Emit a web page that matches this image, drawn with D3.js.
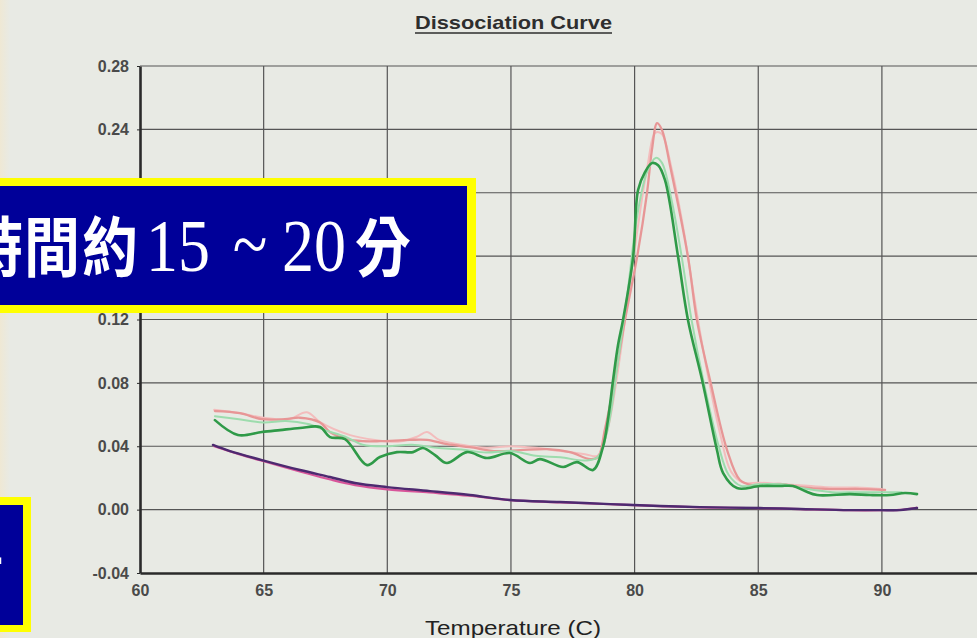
<!DOCTYPE html>
<html><head><meta charset="utf-8">
<script src="https://cdn.jsdelivr.net/npm/d3@7"></script>
<style>html,body{margin:0;padding:0;background:#e8eae4;overflow:hidden}</style>
</head><body>
<svg id="c" width="977" height="638"></svg>
<script>
// ---- data (temperature °C, derivative fluorescence) ----
const xTicks = [60, 65, 70, 75, 80, 85, 90];
const yTicks = [-0.04, 0.00, 0.04, 0.08, 0.12, 0.16, 0.20, 0.24, 0.28];
const yTickLabels = ["-0.04","0.00","0.04","0.08","0.12","0.16","0.20","0.24","0.28"];

const greenDark = [[63.03,0.0565],[63.96,0.0471],[64.93,0.0490],[65.66,0.0502],[66.47,0.0515],[67.28,0.0521],[67.68,0.0458],[68.29,0.0445],[69.18,0.0281],[69.70,0.0332],[70.39,0.0363],[71.04,0.0363],[71.44,0.0389],[71.93,0.0344],[72.41,0.0294],[73.22,0.0363],[74.03,0.0326],[74.96,0.0357],[75.77,0.0294],[76.17,0.0319],[77.11,0.0269],[77.67,0.0300],[78.32,0.0250],[78.72,0.0395],[78.92,0.0565],[79.13,0.0818],[79.33,0.1039],[79.53,0.1196],[79.94,0.1594],[80.14,0.2017],[80.42,0.2130],[80.70,0.2187],[80.95,0.2174],[81.23,0.2079],[81.76,0.1594],[82.16,0.1196],[82.73,0.0818],[83.33,0.0376],[83.58,0.0231],[84.14,0.0136],[85.07,0.0149],[85.88,0.0149],[86.41,0.0149],[86.89,0.0117],[87.38,0.0092],[88.71,0.0098],[89.52,0.0092],[90.33,0.0092],[90.93,0.0105],[91.42,0.0098]];

const greenLight = [[63.03,0.059],[64.0,0.057],[65.0,0.055],[65.9,0.056],[66.8,0.054],[67.5,0.050],[68.3,0.046],[69.0,0.041],[70.0,0.040],[71.0,0.041],[72.0,0.039],[73.0,0.038],[74.0,0.036],[75.0,0.037],[76.0,0.034],[77.0,0.033],[78.0,0.031],[78.5,0.033],[78.9,0.050],[79.3,0.090],[79.7,0.135],[80.1,0.185],[80.5,0.213],[80.85,0.222],[81.1,0.219],[81.5,0.195],[81.9,0.160],[82.3,0.120],[82.8,0.080],[83.4,0.040],[83.8,0.022],[84.3,0.015],[85.0,0.016],[86.0,0.016],[87.0,0.013],[88.0,0.011],[89.0,0.011],[90.0,0.011],[90.8,0.011]];

const pinkMain = [[63.03,0.0622],[64.04,0.0609],[64.93,0.0571],[65.86,0.0571],[66.47,0.0580],[67.28,0.0550],[67.68,0.0489],[68.37,0.0445],[69.02,0.0432],[69.70,0.0432],[70.92,0.0440],[71.61,0.0440],[72.41,0.0413],[73.34,0.0394],[74.44,0.0369],[75.37,0.0375],[76.46,0.0382],[77.39,0.0363],[78.20,0.0319],[78.52,0.0331],[78.80,0.0508],[79.09,0.0729],[79.41,0.1013],[79.61,0.1196],[80.10,0.1594],[80.50,0.1997],[80.70,0.2269],[80.91,0.2439],[81.11,0.2395],[81.43,0.2174],[82.16,0.1594],[82.52,0.1196],[83.05,0.0818],[83.74,0.0376],[84.26,0.0187],[84.75,0.0155],[85.88,0.0162],[86.69,0.0142],[87.90,0.0130],[89.11,0.0130],[90.13,0.0124]];

const pinkLight = [[63.0,0.063],[64.0,0.061],[65.0,0.058],[66.0,0.057],[66.75,0.0615],[67.3,0.055],[68.5,0.047],[69.5,0.044],[70.5,0.043],[71.2,0.046],[71.6,0.049],[72.1,0.044],[73.0,0.041],[74.0,0.039],[75.0,0.040],[76.0,0.039],[77.0,0.037],[78.0,0.035],[78.5,0.034],[78.9,0.050],[79.3,0.085],[79.7,0.130],[80.1,0.175],[80.5,0.215],[80.85,0.238],[81.1,0.237],[81.5,0.215],[82.0,0.175],[82.4,0.135],[82.9,0.090],[83.5,0.045],[83.9,0.024],[84.4,0.017],[85.0,0.017],[86.0,0.016],[87.0,0.015],[88.0,0.014],[89.0,0.014],[90.0,0.013]];

const baseMagenta = [[63.0,0.040],[64.0,0.035],[65.0,0.0305],[66.5,0.024],[67.7,0.019],[68.7,0.0155],[70.0,0.0128],[71.7,0.0108],[73.3,0.0088],[75.0,0.0060],[77.0,0.0046],[79.0,0.0034],[81.0,0.0022],[82.6,0.0014],[85.0,0.0010],[86.7,0.0003],[88.7,-0.0004],[90.0,-0.0004],[90.7,-0.0002],[91.4,0.0012]];

const basePurple = [[62.95,0.0408],[63.64,0.0369],[64.93,0.0313],[66.47,0.0250],[67.68,0.0206],[68.69,0.0168],[69.99,0.0142],[71.73,0.0117],[73.34,0.0092],[74.96,0.0061],[76.98,0.0048],[79.01,0.0035],[81.03,0.0023],[82.64,0.0016],[85.07,0.0010],[86.69,0.0004],[88.71,-0.0003],[89.92,-0.0003],[90.73,-0.0003],[91.42,0.0010]];

const titleText = "Dissociation Curve";
const xTitle = "Temperature (C)";
// ---------------------------------------------------------

const svg = d3.select("#c");
const W = 977, H = 638;

// background
const defs = svg.append("defs");
const lg = defs.append("linearGradient").attr("id","edge").attr("x1","0").attr("x2","1");
lg.append("stop").attr("offset","0").attr("stop-color","#efe8d4");
lg.append("stop").attr("offset","1").attr("stop-color","#e8eae4");
svg.append("rect").attr("width",W).attr("height",H).attr("fill","#e8eae4");
svg.append("rect").attr("width",10).attr("height",H).attr("fill","url(#edge)");

const x = d3.scaleLinear().domain([60, 95]).range([140, 140 + 35 * 24.73]);
const y = d3.scaleLinear().domain([-0.04, 0.28]).range([573, 66]);

const g = svg.append("g");

// grid
g.selectAll(".vg").data(xTicks.slice(1)).join("line")
  .attr("x1", d => x(d)).attr("x2", d => x(d))
  .attr("y1", y(0.28)).attr("y2", y(-0.04))
  .attr("stroke", "#555").attr("stroke-width", 1.2);
g.selectAll(".hg").data(yTicks.slice(1)).join("line")
  .attr("x1", x(60)).attr("x2", W)
  .attr("y1", d => y(d)).attr("y2", d => y(d))
  .attr("stroke", "#555").attr("stroke-width", 1.2);

// axes
const yAxis = d3.axisLeft(y).tickValues(yTicks).tickFormat((d,i) => yTickLabels[i])
  .tickSize(3).tickSizeOuter(0).tickPadding(8);
const ya = svg.append("g").attr("transform", `translate(${x(60)},0)`).call(yAxis);
ya.select(".domain").attr("stroke","#2a2a2a").attr("stroke-width",2.6);
ya.selectAll(".tick line").attr("stroke","#2a2a2a");
ya.selectAll(".tick text").attr("font-family","Liberation Sans, Arial, sans-serif")
  .attr("font-size",16).attr("font-weight","bold").attr("fill","#4a4a4a");

const xAxis = d3.axisBottom(x).tickValues(xTicks).tickSize(0).tickSizeOuter(0).tickPadding(12);
const xa = svg.append("g").attr("transform", `translate(0,${y(-0.04)})`).call(xAxis);
xa.select(".domain").attr("stroke","#2a2a2a").attr("stroke-width",2.6);
xa.selectAll(".tick text").attr("font-family","Liberation Sans, Arial, sans-serif")
  .attr("font-size",16).attr("font-weight","bold").attr("fill","#4a4a4a");

// curves
const line = d3.line().x(d => x(d[0])).y(d => y(d[1])).curve(d3.curveCatmullRom.alpha(0.5));
const series = [
  {d: pinkLight, c: "#f3bdbd", w: 2},
  {d: pinkMain, c: "#e79696", w: 2.3},
  {d: greenLight, c: "#9ddcad", w: 2},
  {d: greenDark, c: "#2f9a48", w: 2.6},
  {d: baseMagenta, c: "#d8559a", w: 2.2},
  {d: basePurple, c: "#4d2a70", w: 2.4}
];
g.selectAll(".s").data(series).join("path")
  .attr("d", s => line(s.d)).attr("fill","none")
  .attr("stroke", s => s.c).attr("stroke-width", s => s.w)
  .attr("stroke-linejoin","round").attr("stroke-linecap","round");

// titles
svg.append("text").attr("x", 415).attr("y", 29)
  .attr("font-family","Liberation Sans, Arial, sans-serif").attr("font-weight","bold")
  .attr("font-size",19).attr("fill","#2e2e2e")
  .attr("textLength",197).attr("lengthAdjust","spacingAndGlyphs").text(titleText);
svg.append("line").attr("x1",415).attr("x2",612).attr("y1",33).attr("y2",33)
  .attr("stroke","#2e2e2e").attr("stroke-width",1.6);
svg.append("text").attr("x", 425).attr("y", 635)
  .attr("font-family","Liberation Sans, Arial, sans-serif")
  .attr("font-size",21).attr("fill","#222")
  .attr("textLength",176).attr("lengthAdjust","spacingAndGlyphs").text(xTitle);

// overlay boxes
svg.append("rect").attr("x",-10).attr("y",178).attr("width",486).attr("height",135).attr("fill","#ffff00");
svg.append("rect").attr("x",-10).attr("y",186).attr("width",477).attr("height",119).attr("fill","#000099");
const bg = svg.append("g").attr("transform","translate(0,271) scale(1,1.15)")
  .attr("fill","#ffffff");
const cjk = (txt, cx) => bg.append("text").attr("x",cx).attr("y",0).attr("text-anchor","middle")
  .attr("font-family","Noto Sans CJK TC").attr("font-weight","bold").attr("font-size",56).text(txt);
cjk("時", -5); cjk("間", 52); cjk("約", 110);
bg.append("text").attr("x",146).attr("y",0)
  .attr("font-family","Liberation Serif").attr("font-size",64).text("15");
bg.append("text").attr("x",250).attr("y",-2).attr("text-anchor","middle")
  .attr("font-family","Liberation Serif").attr("font-size",64).text("~");
bg.append("text").attr("x",282).attr("y",0)
  .attr("font-family","Liberation Serif").attr("font-size",64).text("20");
cjk("分", 383);

svg.append("rect").attr("x",-10).attr("y",497).attr("width",41).attr("height",135).attr("fill","#ffff00");
svg.append("rect").attr("x",-10).attr("y",505).attr("width",33).attr("height",120).attr("fill","#000099");
svg.append("text").attr("x",3).attr("y",580).attr("text-anchor","end").attr("fill","#fff")
  .attr("font-family","Noto Sans CJK TC").attr("font-weight","bold").attr("font-size",50).text("一");
</script>
</body></html>
